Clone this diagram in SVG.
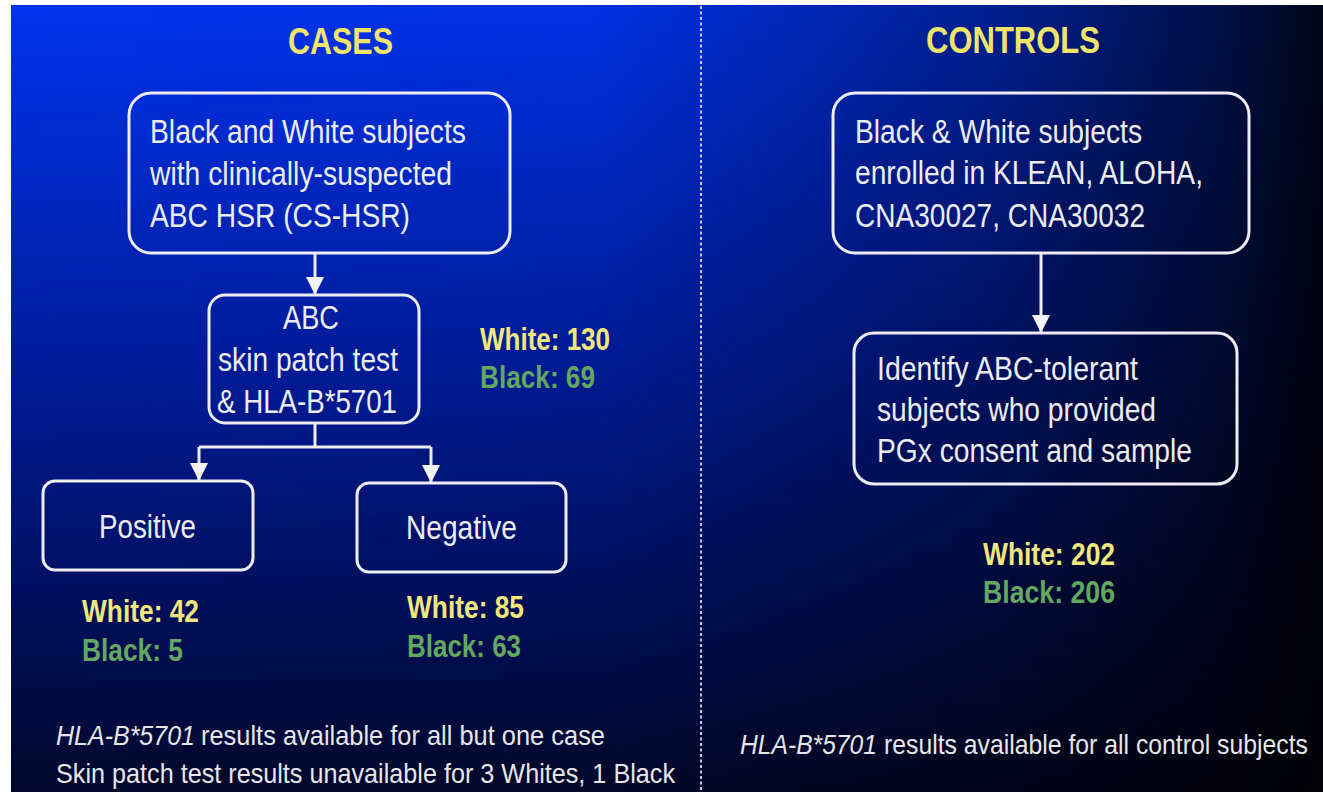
<svg xmlns="http://www.w3.org/2000/svg" width="1323" height="792" viewBox="0 0 1323 792">
  <defs>
    <linearGradient id="bgV" x1="0" y1="0" x2="0" y2="1">
      <stop offset="0" stop-color="#0033ee"/>
      <stop offset="0.45" stop-color="#001c9c"/>
      <stop offset="0.75" stop-color="#000f5e"/>
      <stop offset="1" stop-color="#00072a"/>
    </linearGradient>
    <linearGradient id="bgH" x1="0" y1="0" x2="1" y2="0">
      <stop offset="0" stop-color="#000" stop-opacity="0"/>
      <stop offset="0.45" stop-color="#000" stop-opacity="0.05"/>
      <stop offset="0.75" stop-color="#000" stop-opacity="0.4"/>
      <stop offset="0.92" stop-color="#000" stop-opacity="0.7"/>
      <stop offset="1" stop-color="#000" stop-opacity="0.9"/>
    </linearGradient>
    <marker id="arrow" markerUnits="userSpaceOnUse" markerWidth="18" markerHeight="18" viewBox="0 0 18 18" refX="18" refY="9" orient="auto">
      <path d="M0,0 L18,9 L0,18 Z" fill="#f2f2f6"/>
    </marker>
    <style>
      .box { fill: none; stroke: #ececf2; stroke-width: 3; }
      .conn { fill: none; stroke: #ececf2; stroke-width: 3; }
      .t { font-family: "Liberation Sans", Arial, sans-serif; font-size: 33px; fill: #ececf0; }
      .title { font-family: "Liberation Sans", Arial, sans-serif; font-size: 37px; font-weight: bold; fill: #f0e46a; }
      .w { font-family: "Liberation Sans", Arial, sans-serif; font-size: 31px; font-weight: bold; fill: #efe77c; }
      .b { font-family: "Liberation Sans", Arial, sans-serif; font-size: 31px; font-weight: bold; fill: #62a860; }
      .f { font-family: "Liberation Sans", Arial, sans-serif; font-size: 28px; fill: #e6e6ea; }
      .fi { font-style: italic; }
    </style>
  </defs>

  <rect x="0" y="0" width="1323" height="792" fill="#ffffff"/>
  <rect x="11" y="5" width="1312" height="787" fill="url(#bgV)"/>
  <rect x="11" y="5" width="1312" height="787" fill="url(#bgH)"/>

  <line x1="701" y1="6" x2="701" y2="792" stroke="#c0c8e4" stroke-width="2" stroke-dasharray="3 2.5"/>

  <g id="titles">
    <text class="title" x="288" y="54" textLength="105" lengthAdjust="spacingAndGlyphs">CASES</text>
    <text class="title" x="926" y="53" textLength="174" lengthAdjust="spacingAndGlyphs">CONTROLS</text>
  </g>

  <g id="connectors">
    <path class="conn" d="M315,253 V295" marker-end="url(#arrow)"/>
    <path class="conn" d="M315,423 V447"/>
    <path class="conn" d="M199,447 H431"/>
    <path class="conn" d="M199,447 V481" marker-end="url(#arrow)"/>
    <path class="conn" d="M431,447 V483" marker-end="url(#arrow)"/>
    <path class="conn" d="M1041,253 V333" marker-end="url(#arrow)"/>
  </g>

  <g id="node-cs-hsr">
    <rect class="box" x="129" y="93" width="381" height="160" rx="22"/>
    <text class="t" x="150" y="143" textLength="316" lengthAdjust="spacingAndGlyphs">Black and White subjects</text>
    <text class="t" x="150" y="185" textLength="302" lengthAdjust="spacingAndGlyphs">with clinically-suspected</text>
    <text class="t" x="150" y="227" textLength="260" lengthAdjust="spacingAndGlyphs">ABC HSR (CS-HSR)</text>
  </g>

  <g id="node-test">
    <rect class="box" x="209" y="295" width="210" height="128" rx="16"/>
    <text class="t" x="283" y="329" textLength="56" lengthAdjust="spacingAndGlyphs">ABC</text>
    <text class="t" x="218" y="371" textLength="180" lengthAdjust="spacingAndGlyphs">skin patch test</text>
    <text class="t" x="217" y="413" textLength="180" lengthAdjust="spacingAndGlyphs">&amp; HLA-B*5701</text>
  </g>

  <g id="label-test">
    <text class="w" x="480" y="350" textLength="130" lengthAdjust="spacingAndGlyphs">White: 130</text>
    <text class="b" x="480" y="388" textLength="115" lengthAdjust="spacingAndGlyphs">Black: 69</text>
  </g>

  <g id="node-positive">
    <rect class="box" x="43" y="481" width="210" height="89" rx="12"/>
    <text class="t" x="99" y="538" textLength="97" lengthAdjust="spacingAndGlyphs">Positive</text>
  </g>
  <g id="label-positive">
    <text class="w" x="82" y="622" textLength="117" lengthAdjust="spacingAndGlyphs">White: 42</text>
    <text class="b" x="82" y="661" textLength="101" lengthAdjust="spacingAndGlyphs">Black: 5</text>
  </g>

  <g id="node-negative">
    <rect class="box" x="357" y="483" width="209" height="89" rx="12"/>
    <text class="t" x="406" y="539" textLength="111" lengthAdjust="spacingAndGlyphs">Negative</text>
  </g>
  <g id="label-negative">
    <text class="w" x="407" y="618" textLength="117" lengthAdjust="spacingAndGlyphs">White: 85</text>
    <text class="b" x="407" y="657" textLength="114" lengthAdjust="spacingAndGlyphs">Black: 63</text>
  </g>

  <g id="node-enrolled">
    <rect class="box" x="833" y="93" width="416" height="160" rx="22"/>
    <text class="t" x="855" y="143" textLength="287" lengthAdjust="spacingAndGlyphs">Black &amp; White subjects</text>
    <text class="t" x="855" y="184" textLength="348" lengthAdjust="spacingAndGlyphs">enrolled in KLEAN, ALOHA,</text>
    <text class="t" x="855" y="227" textLength="290" lengthAdjust="spacingAndGlyphs">CNA30027, CNA30032</text>
  </g>

  <g id="node-tolerant">
    <rect class="box" x="854" y="333" width="383" height="151" rx="20"/>
    <text class="t" x="877" y="380" textLength="261" lengthAdjust="spacingAndGlyphs">Identify ABC-tolerant</text>
    <text class="t" x="877" y="421" textLength="279" lengthAdjust="spacingAndGlyphs">subjects who provided</text>
    <text class="t" x="877" y="462" textLength="315" lengthAdjust="spacingAndGlyphs">PGx consent and sample</text>
  </g>
  <g id="label-controls">
    <text class="w" x="983" y="565" textLength="132" lengthAdjust="spacingAndGlyphs">White: 202</text>
    <text class="b" x="983" y="603" textLength="132" lengthAdjust="spacingAndGlyphs">Black: 206</text>
  </g>

  <g id="footnotes">
    <text class="f fi" x="740" y="754" textLength="137" lengthAdjust="spacingAndGlyphs">HLA-B*5701</text>
    <text class="f" transform="translate(884 754) scale(0.885 1)" x="0" y="0">results available for all control subjects</text>
    <text class="f fi" x="56" y="745" textLength="139" lengthAdjust="spacingAndGlyphs">HLA-B*5701</text>
    <text class="f" x="201" y="745" textLength="404" lengthAdjust="spacingAndGlyphs">results available for all but one case</text>
    <text class="f" x="56" y="783" textLength="619" lengthAdjust="spacingAndGlyphs">Skin patch test results unavailable for 3 Whites, 1 Black</text>
  </g>
</svg>
